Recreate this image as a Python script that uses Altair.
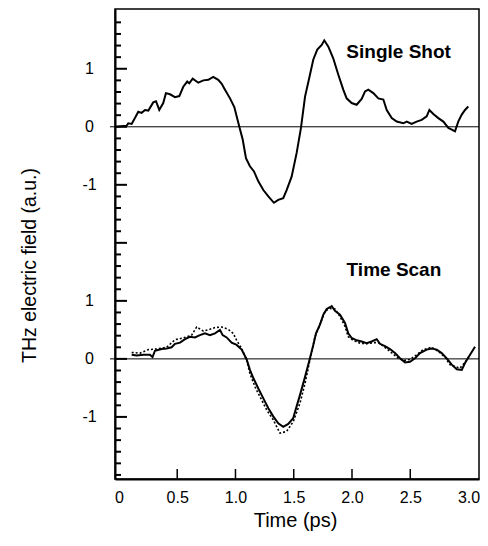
import altair as alt
import pandas as pd

# ---------------- data ----------------
# Single shot trace (upper panel), value relative to its own zero line
ss_t = [-0.034, 0.066, 0.080, 0.109, 0.137, 0.166, 0.195, 0.223, 0.252, 0.294, 0.318, 0.346,
        0.380, 0.403, 0.438, 0.481, 0.518, 0.552, 0.586, 0.603, 0.633, 0.681, 0.724, 0.767,
        0.809, 0.852, 0.882, 0.910, 0.953, 0.990, 1.010, 1.033, 1.062, 1.090, 1.124, 1.159,
        1.196, 1.239, 1.282, 1.330, 1.367, 1.410, 1.439, 1.482, 1.525, 1.562, 1.597, 1.633,
        1.668, 1.702, 1.740, 1.762, 1.797, 1.839, 1.882, 1.925, 1.954, 1.997, 2.040, 2.083,
        2.112, 2.140, 2.183, 2.226, 2.269, 2.298, 2.341, 2.384, 2.440, 2.470, 2.512, 2.555,
        2.598, 2.641, 2.664, 2.698, 2.741, 2.784, 2.827, 2.856, 2.884, 2.912, 2.942, 2.970,
        2.998]
ss_v = [0.00, 0.02, 0.06, 0.05, 0.15, 0.26, 0.24, 0.29, 0.28, 0.42, 0.44, 0.29,
        0.41, 0.58, 0.56, 0.51, 0.53, 0.69, 0.78, 0.75, 0.83, 0.76, 0.80, 0.81,
        0.86, 0.81, 0.74, 0.64, 0.49, 0.34, 0.18, 0.00, -0.22, -0.54, -0.68, -0.77,
        -0.94, -1.09, -1.20, -1.31, -1.26, -1.23, -1.09, -0.86, -0.45, -0.02, 0.52, 0.84,
        1.16, 1.33, 1.41, 1.49, 1.38, 1.18, 0.90, 0.64, 0.49, 0.41, 0.38, 0.48,
        0.61, 0.64, 0.58, 0.49, 0.47, 0.29, 0.15, 0.09, 0.06, 0.09, 0.05, 0.09,
        0.12, 0.18, 0.29, 0.22, 0.15, 0.09, -0.02, -0.05, -0.08, 0.09, 0.21, 0.29,
        0.35]

# Time scan, solid trace (lower panel)
tss_t = [0.109, 0.152, 0.209, 0.266, 0.288, 0.309, 0.367, 0.409, 0.452, 0.481, 0.524, 0.567,
         0.609, 0.652, 0.695, 0.738, 0.781, 0.824, 0.867, 0.890, 0.924, 0.967, 1.010, 1.053,
         1.096, 1.124, 1.153, 1.196, 1.239, 1.282, 1.324, 1.367, 1.410, 1.453, 1.496, 1.511,
         1.554, 1.597, 1.639, 1.668, 1.691, 1.725, 1.754, 1.783, 1.811, 1.826, 1.854, 1.897,
         1.940, 1.968, 1.997, 2.040, 2.083, 2.126, 2.169, 2.212, 2.240, 2.283, 2.326, 2.369,
         2.412, 2.455, 2.498, 2.541, 2.584, 2.641, 2.684, 2.727, 2.770, 2.813, 2.856, 2.899,
         2.942, 2.970, 3.013, 3.056]
tss_v = [0.07, 0.06, 0.07, 0.07, 0.03, 0.14, 0.17, 0.18, 0.20, 0.26, 0.28, 0.34,
         0.38, 0.37, 0.41, 0.44, 0.41, 0.44, 0.50, 0.41, 0.37, 0.28, 0.24, 0.16,
         -0.01, -0.19, -0.33, -0.51, -0.68, -0.85, -0.99, -1.11, -1.17, -1.12, -1.02, -0.91,
         -0.62, -0.31, 0.01, 0.24, 0.44, 0.59, 0.76, 0.86, 0.89, 0.91, 0.83, 0.76,
         0.62, 0.44, 0.36, 0.32, 0.30, 0.27, 0.30, 0.34, 0.26, 0.22, 0.17, 0.10,
         0.01, -0.06, -0.05, 0.01, 0.10, 0.16, 0.18, 0.16, 0.10, 0.01, -0.10, -0.18,
         -0.19, -0.07, 0.07, 0.21]

# Time scan, dotted trace (lower panel)
tsd_t = [0.109, 0.180, 0.252, 0.324, 0.409, 0.481, 0.552, 0.624, 0.667, 0.724, 0.781, 0.824,
         0.882, 0.938, 0.981, 1.010, 1.053, 1.096, 1.124, 1.167, 1.210, 1.268, 1.324, 1.382,
         1.439, 1.496, 1.554, 1.597, 1.639, 1.682, 1.725, 1.768, 1.811, 1.854, 1.897, 1.940,
         1.968, 2.011, 2.069, 2.126, 2.183, 2.226, 2.269, 2.326, 2.384, 2.440, 2.498, 2.555,
         2.612, 2.684, 2.741, 2.798, 2.841, 2.884, 2.927, 2.970, 3.013]
tsd_v = [0.11, 0.10, 0.16, 0.17, 0.20, 0.33, 0.36, 0.41, 0.55, 0.48, 0.51, 0.54,
         0.55, 0.51, 0.44, 0.32, 0.18, -0.02, -0.25, -0.48, -0.65, -0.88, -1.05, -1.28,
         -1.25, -1.08, -0.76, -0.42, -0.02, 0.38, 0.59, 0.82, 0.87, 0.86, 0.73, 0.56,
         0.38, 0.32, 0.27, 0.26, 0.28, 0.28, 0.22, 0.13, 0.03, -0.03, -0.01, 0.07,
         0.16, 0.20, 0.13, 0.03, -0.10, -0.13, -0.16, -0.06, 0.07]

x_tick_labels = [0, 0.5, 1.0, 1.5, 2.0, 2.5, 3.0]
x_minor_ticks = [0.5, 1.0, 1.5, 2.0, 2.5]
y_label_values = [-1, 0, 1, 3, 4, 5]
y_major_ticks = [-1, 0, 1, 2, 3, 4, 5]
y_minor_ticks = [round(-2 + 0.2 * i, 1) for i in range(40)]
y_minor_ticks = [v for v in y_minor_ticks if v not in y_major_ticks]

panel_offset = 4  # upper panel drawn 4 units above the lower one
zero_lines = [0, panel_offset]
labels = ["Single Shot", "Time Scan"]
label_t = [2.40, 2.36]
label_v = [5.18, 1.43]

# ---------------- tables ----------------
df_ss = pd.DataFrame({"t": ss_t, "v": [v + panel_offset for v in ss_v]})
df_tss = pd.DataFrame({"t": tss_t, "v": tss_v})
df_tsd = pd.DataFrame({"t": tsd_t, "v": tsd_v})
df_zero = pd.DataFrame({"v": zero_lines})
df_ymaj = pd.DataFrame({"v": y_major_ticks})
df_ymin = pd.DataFrame({"v": y_minor_ticks})
df_xt = pd.DataFrame({"t": x_minor_ticks})
df_lab = pd.DataFrame({"t": label_t, "v": label_v, "label": labels})

W, H = 364, 470
FONT = "Liberation Sans"

xs = alt.Scale(domain=[-0.034, 3.09], nice=False, zero=False)
ys = alt.Scale(domain=[-2.07, 6.03], nice=False, zero=False)

x_axis = alt.Axis(
    values=x_tick_labels,
    labelExpr="datum.value == 0 ? '0' : format(datum.value, '.1f')",
    ticks=False, tickSize=0, grid=False, domain=True,
    domainColor="black", domainWidth=2, labelFlush=False,
    labelFont=FONT, labelFontSize=16, labelColor="black", labelPadding=10,
    titleFont=FONT, titleFontSize=20, titleFontWeight="normal", titleColor="black",
    titleX=180, titleY=47, titleBaseline="alphabetic", titleAlign="center",
)
y_axis = alt.Axis(
    values=y_label_values,
    labelExpr="datum.value > 2.5 ? '' + (datum.value - 4) : '' + datum.value",
    ticks=False, tickSize=0, grid=False, domain=True,
    domainColor="black", domainWidth=2, labelFlush=False,
    labelFont=FONT, labelFontSize=16, labelColor="black", labelPadding=26,
    labelAlign="center", labelBaseline="middle",
    titleFont=FONT, titleFontSize=19.5, titleFontWeight="normal", titleColor="black",
    titleAngle=270, titleX=-80, titleY=256, titleBaseline="alphabetic", titleAlign="center",
)

X = alt.X("t:Q", scale=xs, axis=x_axis, title="Time (ps)")
Y = alt.Y("v:Q", scale=ys, axis=y_axis, title="THz electric field (a.u.)")

zero = alt.Chart(df_zero).mark_rule(color="black", strokeWidth=1).encode(
    y=Y, x=alt.value(-5), x2=alt.value(W))
ymaj = alt.Chart(df_ymaj).mark_rule(color="black", strokeWidth=2).encode(
    y=Y, x=alt.value(0), x2=alt.value(12))
ymin = alt.Chart(df_ymin).mark_rule(color="black", strokeWidth=2).encode(
    y=Y, x=alt.value(0), x2=alt.value(6))
xt = alt.Chart(df_xt).mark_rule(color="black", strokeWidth=1.5).encode(
    x=X, y=alt.value(H), y2=alt.value(H - 10))

line_ss = alt.Chart(df_ss).mark_line(color="black", strokeWidth=2).encode(x=X, y=Y)
line_tss = alt.Chart(df_tss).mark_line(color="black", strokeWidth=2).encode(x=X, y=Y)
line_tsd = alt.Chart(df_tsd).mark_line(color="black", strokeWidth=1.6, strokeDash=[2, 2]).encode(x=X, y=Y)

text = alt.Chart(df_lab).mark_text(
    font=FONT, fontSize=19, fontWeight="bold", color="black",
    align="center", baseline="alphabetic").encode(x=X, y=Y, text="label:N")

chart = alt.layer(zero, ymaj, ymin, xt, line_ss, line_tss, line_tsd, text).properties(
    width=W, height=H,
    autosize=alt.AutoSizeParams(type="none"),
    padding={"left": 107, "top": 1, "right": 1, "bottom": 59},
    background="white",
).configure_view(stroke="black", strokeWidth=1.5)

chart.save("out.html", embed_options={"renderer": "svg", "actions": False})
